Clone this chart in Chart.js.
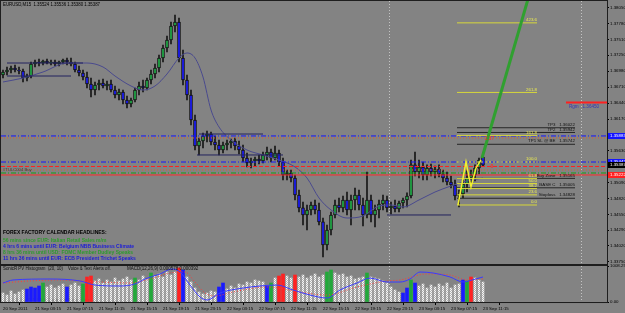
<!DOCTYPE html>
<html>
<head>
<meta charset="utf-8">
<script src="https://cdn.jsdelivr.net/npm/chart.js@4.4.0/dist/chart.umd.min.js"></script>
<style>
  html, body { margin: 0; padding: 0; background: #838383; }
  #wrap { position: relative; width: 625px; height: 313px; overflow: hidden; }
  #main { position: absolute; left: 0; top: 0; }
  #sub { position: absolute; left: 0; top: 260px; }
</style>
</head>
<body>
<div id="wrap">
  <canvas id="main" width="625" height="265"></canvas>
  <canvas id="sub" width="625" height="53"></canvas>
</div>
<script>
// ---------- data (EURUSD, bar index 0 = 20 Sep 23:15) ----------
const openP = [
  1.36915,1.36966,1.37000,1.37034,1.37000,1.36983,1.36864,1.36898,1.37101,1.37135,
  1.37118,1.37152,1.37118,1.37135,1.37101,1.37135,1.37169,1.37135,1.37101,1.37000,
  1.36949,1.36881,1.36763,1.36661,1.36746,1.36780,1.36729,1.36763,1.36661,1.36577,
  1.36627,1.36492,1.36424,1.36492,1.36661,1.36729,1.36695,1.36831,1.36932,1.37034,
  1.37203,1.37372,1.37508,1.37745,1.37813,1.37203,1.36831,1.36577,1.36153,1.35713,
  1.35798,1.35883,1.35916,1.35781,1.35730,1.35645,1.35730,1.35764,1.35798,1.35713,
  1.35645,1.35510,1.35425,1.35459,1.35493,1.35459,1.35561,1.35612,1.35510,1.35595,
  1.35442,1.35222,1.35256,1.35171,1.34884,1.34664,1.34545,1.34630,1.34714,1.34630,
  1.34427,1.34037,1.34291,1.34545,1.34714,1.34664,1.34799,1.34630,1.34799,1.34884,
  1.34714,1.34545,1.34799,1.34545,1.34630,1.34731,1.34799,1.34664,1.34697,1.34647,
  1.34748,1.34799,1.34867,1.35392,1.35273,1.35358,1.35222,1.35341,1.35273,1.35324,
  1.35239,1.35171,1.35104,1.35053,1.34867,1.34901,1.35070,1.35171,1.35222,1.35341,
  1.35524];
const highP = [
  1.37000,1.37051,1.37068,1.37085,1.37051,1.37017,1.36932,1.37135,1.37169,1.37186,
  1.37169,1.37186,1.37169,1.37169,1.37152,1.37186,1.37203,1.37203,1.37135,1.37068,
  1.37000,1.36966,1.36864,1.36797,1.36831,1.36848,1.36814,1.36831,1.36729,1.36678,
  1.36661,1.36560,1.36526,1.36695,1.36797,1.36831,1.36864,1.37000,1.37101,1.37254,
  1.37423,1.37576,1.37813,1.37931,1.37880,1.37338,1.36915,1.36661,1.36238,1.35849,
  1.35933,1.35967,1.35950,1.35883,1.35815,1.35781,1.35815,1.35832,1.35849,1.35798,
  1.35730,1.35595,1.35510,1.35527,1.35561,1.35612,1.35696,1.35662,1.35713,1.35645,
  1.35510,1.35307,1.35307,1.35222,1.34968,1.34765,1.34714,1.34765,1.34799,1.34748,
  1.34494,1.34376,1.34596,1.34799,1.34833,1.34867,1.34934,1.34884,1.35002,1.34968,
  1.34833,1.35273,1.34884,1.34714,1.34799,1.34884,1.34867,1.34765,1.34799,1.34782,
  1.34833,1.34918,1.35476,1.35612,1.35476,1.35442,1.35392,1.35408,1.35375,1.35392,
  1.35307,1.35273,1.35205,1.35138,1.34968,1.35138,1.35307,1.35307,1.35392,1.35510,
  1.35536];
const lowP = [
  1.36864,1.36915,1.36949,1.36966,1.36932,1.36797,1.36814,1.36864,1.37051,1.37068,
  1.37085,1.37101,1.37085,1.37068,1.37068,1.37101,1.37085,1.37068,1.36966,1.36898,
  1.36831,1.36695,1.36543,1.36577,1.36661,1.36695,1.36661,1.36627,1.36526,1.36492,
  1.36424,1.36357,1.36373,1.36458,1.36577,1.36627,1.36661,1.36763,1.36864,1.36966,
  1.37135,1.37305,1.37440,1.37643,1.37135,1.36746,1.36492,1.36069,1.35645,1.35561,
  1.35679,1.35781,1.35730,1.35645,1.35561,1.35595,1.35645,1.35679,1.35645,1.35578,
  1.35442,1.35358,1.35341,1.35375,1.35408,1.35425,1.35476,1.35442,1.35476,1.35375,
  1.35138,1.35138,1.35104,1.34799,1.34596,1.34376,1.34291,1.34545,1.34562,1.34376,
  1.33834,1.33952,1.34206,1.34494,1.34596,1.34596,1.34545,1.34376,1.34630,1.34630,
  1.34359,1.34494,1.34427,1.34342,1.34494,1.34630,1.34596,1.34562,1.34596,1.34596,
  1.34664,1.34680,1.34833,1.35205,1.35171,1.35138,1.35138,1.35205,1.35171,1.35188,
  1.35104,1.35053,1.35002,1.34799,1.34680,1.34833,1.34934,1.35036,1.35121,1.35239,
  1.35380];
const closeP = [
  1.36966,1.37000,1.37034,1.37000,1.36983,1.36864,1.36898,1.37101,1.37135,1.37118,
  1.37152,1.37118,1.37135,1.37101,1.37135,1.37169,1.37135,1.37101,1.37000,1.36949,
  1.36881,1.36763,1.36661,1.36746,1.36780,1.36729,1.36763,1.36661,1.36577,1.36627,
  1.36492,1.36424,1.36492,1.36661,1.36729,1.36695,1.36831,1.36932,1.37034,1.37203,
  1.37372,1.37508,1.37745,1.37813,1.37203,1.36831,1.36577,1.36153,1.35713,1.35798,
  1.35883,1.35916,1.35781,1.35730,1.35645,1.35730,1.35764,1.35798,1.35713,1.35645,
  1.35510,1.35425,1.35459,1.35493,1.35459,1.35561,1.35612,1.35510,1.35595,1.35442,
  1.35222,1.35256,1.35171,1.34884,1.34664,1.34545,1.34630,1.34714,1.34630,1.34427,
  1.34037,1.34291,1.34545,1.34714,1.34664,1.34799,1.34630,1.34799,1.34884,1.34714,
  1.34545,1.34799,1.34545,1.34630,1.34731,1.34799,1.34664,1.34697,1.34647,1.34748,
  1.34799,1.34867,1.35392,1.35273,1.35358,1.35222,1.35341,1.35273,1.35324,1.35239,
  1.35171,1.35104,1.35053,1.34867,1.34901,1.35070,1.35171,1.35222,1.35341,1.35476,
  1.35387];

// moving average (read at sample bars)
const maBars = [0,5,10,16,21,25,28,32,35,38,41,44,46,48,50,52,54,57,61,65,69,73,76,79,82,86,90,94,97,100,104,108,112,116,120];
const maVals = [1.36797,1.36864,1.36966,1.37118,1.37118,1.37051,1.36898,1.36729,1.36661,1.36729,1.36932,1.37203,1.37288,1.37203,1.36881,
  1.36323,1.36035,1.35815,1.35645,1.35561,1.35476,1.35358,1.35171,1.34833,1.34630,1.34494,1.34528,1.34697,1.34714,1.34680,
  1.34799,1.34934,1.35036,1.35121,1.35171];

const timeLabels = ['20 Sep 2011','21 Sep 03:15','21 Sep 07:15','21 Sep 11:15','21 Sep 15:15','21 Sep 19:15','21 Sep 23:15',
  '22 Sep 03:15','22 Sep 07:15','22 Sep 11:15','22 Sep 15:15','22 Sep 19:15','22 Sep 23:15','23 Sep 03:15','23 Sep 07:15','23 Sep 11:15'];
const timeTickBars = [0,8,16,24,32,40,48,56,64,72,80,88,96,104,112,120];
const priceTicks = [1.38050,1.37780,1.37510,1.37250,1.36980,1.36710,1.36440,1.36170,1.35900,1.35630,1.35360,1.35090,1.34820,1.34550,1.34290,1.34020,1.33750];

// drawn objects
const hSegFrom = [1, 1, 49, 48.5, 96];
const hSegTo = [20, 17, 65, 70, 112];
const hSegPrice = [1.37118, 1.36898, 1.35916, 1.35561, 1.34545];
const levelPrices = [1.35883, 1.35849, 1.35442, 1.35366, 1.35307, 1.35256, 1.35222];
const fibBase = [1.34714, 1.35442];
const fibLevels = [0, 23.6, 38.2, 50, 61.8, 100, 161.8, 261.8, 423.6];
const tpNames = ['TP3', 'TP2', 'TP1 SL @ BE', 'Buy Zone', 'BASE C', 'Stoploss'];
const tpPrices = [1.36022, 1.35942, 1.35742, 1.35165, 1.35005, 1.34828];
const targetBars = [119.75, 131.25];
const targetVals = [1.35510, 1.38200];
const zigBars = [113.75, 115.75, 117, 118.25, 119.5];
const zigVals = [1.34714, 1.35442, 1.35019, 1.35341, 1.35476];
const rgmPrice = 1.36450;
const sepBars = [96.5, 144.5];
const bidPrice = 1.35387;

const headlines = [
  'FOREX FACTORY CALENDAR HEADLINES:',
  '56 mins since EUR: Italian Retail Sales m/m',
  '4 hrs 6 mins until EUR: Belgium NBB Business Climate',
  '8 hrs 36 mins until USD: FOMC Member Dudley Speaks',
  '11 hrs 36 mins until EUR: ECB President Trichet Speaks'
];

// sub window
const volume = [
  252,196,308,224,280,336,364,420,392,448,
  532,420,476,392,448,504,420,476,532,448,
  504,700,728,588,644,532,616,560,672,588,
  644,700,616,672,616,728,644,812,728,784,
  700,840,756,840,952,896,700,560,392,280,
  224,252,308,280,420,532,364,448,392,504,
  476,560,532,616,588,560,448,532,672,728,
  784,728,672,756,700,756,672,728,784,700,
  756,840,896,812,756,784,700,728,644,672,
  700,812,700,672,644,588,532,420,336,280,
  252,392,616,532,448,504,392,476,420,504,
  448,532,392,476,504,616,588,700,672,616,
  560];
const blueBars = [6,7,8,9,16,45,54,55,66,100,101,103,115];
const greenBars = [10,20,33,37,67,81,82,91,102,116];
const redBars = [21,22,44,69,70,73,117];
const macdBars = [0,2.5,11.75,19.25,23,29.25,33,35.5,39.25,42.25,44.25,46.75,49.25,51,54.25,60,64.25,68.5,72.5,76.75,81,84.25,88.5,91.75,96,99.25,101.75,104.25,107.5,111.75,115,117.25,120];
const macdVals = [0.00002,0.00030,0.00039,0.00021,-0.00017,-0.00026,-0.00007,0.00039,0.00086,0.00132,0.00104,-0.00017,-0.00128,-0.00156,-0.00091,
  -0.00045,-0.00026,-0.00017,-0.00063,-0.00110,-0.00138,-0.00063,0.00002,0.00048,0.00011,0.00011,0.00039,0.00104,0.00095,0.00058,0.00011,0.00030,0.000578];
const signalBars = [0,6.75,14.25,24.25,31.75,36.75,41.75,45.5,48,50.5,53,57.5,66,74.25,81,88.5,96,99.25,106,111.75,116,120];
const signalVals = [0.00002,0.00021,0.00030,0.00011,0.00002,0.00039,0.00095,0.00104,0.00011,-0.00091,-0.00119,-0.00082,-0.00035,-0.00082,-0.00110,
  -0.00035,0.00021,0.00030,0.00086,0.00076,0.00030,0.000392];

// ---------- helpers ----------
Chart.defaults.font.family = "'Liberation Sans', Arial, sans-serif";
Chart.defaults.color = '#000';

var FONT = "'Liberation Sans', Arial, sans-serif";

function text(ctx, s, x, y, color, size, align, bold, maxW) {
  ctx.font = (bold ? 'bold ' : '') + size + 'px ' + FONT;
  ctx.fillStyle = color;
  ctx.textAlign = align || 'left';
  ctx.textBaseline = 'middle';
  if (maxW) ctx.fillText(s, x, y, maxW); else ctx.fillText(s, x, y);
}

function seg(x0, x1, p, color, width, dash, order) {
  return {
    type: 'line',
    data: [{x: x0, y: p}, {x: x1, y: p}],
    borderColor: color, borderWidth: width, borderDash: dash || [],
    pointRadius: 0, order: order == null ? 2 : order
  };
}

function zipXY(xs, ys) {
  return xs.map(function (v, i) { return {x: v, y: ys[i]}; });
}

var fibFrom = 113.5, fibTo = 133.5, tpTo = 143;
var fibPrice = function (lvl) { return fibBase[0] + (fibBase[1] - fibBase[0]) * lvl / 100; };

// ---------- main chart ----------
var wicks = [], bodies = [];
closeP.forEach(function (c, i) {
  wicks.push({x: i, y: [lowP[i], highP[i]]});
  bodies.push({x: i, y: [openP[i], c]});
});

var mainSets = [
  {
    type: 'bar', data: wicks, backgroundColor: '#161616', barThickness: 1,
    grouped: false, order: 6
  },
  {
    type: 'bar', data: bodies, barThickness: 3, grouped: false, order: 5,
    backgroundColor: function (c) { var i = c.dataIndex; return closeP[i] >= openP[i] ? '#22b04a' : '#1c1cff'; },
    borderColor: '#111', borderWidth: 1, borderSkipped: false
  },
  {
    type: 'line', data: zipXY(maBars, maVals), borderColor: '#4a4a8e', borderWidth: 1,
    pointRadius: 0, cubicInterpolationMode: 'monotone', order: 4
  }
];

hSegPrice.forEach(function (p, k) { mainSets.push(seg(hSegFrom[k], hSegTo[k], p, '#23235e', 1, null, 3)); });

// full width levels
var fullStyle = [
  ['#1414ff', [5, 2, 1, 2]], ['#e0602a', [1, 2]], ['#1414ff', [5, 2, 1, 2]], ['#ff2020', [4, 2]],
  ['#e0602a', [1, 2]], ['#18a018', [5, 2, 1, 2]], ['#ff2a2a', []]
];
levelPrices.forEach(function (p, k) { mainSets.push(seg(-0.5, 151, p, fullStyle[k][0], 1, fullStyle[k][1], 2)); });

fibLevels.forEach(function (l) {
  mainSets.push(seg(fibFrom, fibTo, fibPrice(l), '#d8d83a', 1, l === 100 ? [2, 2] : [], 1));
});
tpPrices.forEach(function (p) { mainSets.push(seg(fibFrom, tpTo, p, '#262626', 1, null, 1)); });
mainSets.push(seg(140.75, 151, rgmPrice, '#ff2020', 2, null, 1));

mainSets.push({
  type: 'line', data: zipXY(zigBars, zigVals), borderColor: '#f0f030', borderWidth: 1.5,
  pointRadius: 0, order: 0
});
mainSets.push({
  type: 'line', data: zipXY(targetBars, targetVals), borderColor: '#30a030', borderWidth: 3,
  pointRadius: 0, order: 0
});

var mainDecor = {
  id: 'mainDecor',
  beforeDatasetsDraw: function (chart) {
    var ctx = chart.ctx, a = chart.chartArea, x = chart.scales.x;
    ctx.save();
    ctx.strokeStyle = '#c4c4c4';
    ctx.lineWidth = 1;
    ctx.setLineDash([1, 2]);
    sepBars.forEach(function (b) {
      var px = Math.round(x.getPixelForValue(b)) + 0.5;
      ctx.beginPath(); ctx.moveTo(px, a.top); ctx.lineTo(px, a.bottom); ctx.stroke();
    });
    ctx.restore();
  },
  afterDatasetsDraw: function (chart) {
    var ctx = chart.ctx, x = chart.scales.x, y = chart.scales.y;
    ctx.save();
    // symbol header
    text(ctx, 'EURUSD,M15  1.35524 1.35536 1.35380 1.35387', 3, 5, '#000', 4.6, 'left', false, 97);
    // fib labels
    fibLevels.forEach(function (l) {
      text(ctx, l.toFixed(1), x.getPixelForValue(fibTo), y.getPixelForValue(fibPrice(l)) - 3, '#ecec50', 4.4, 'right');
    });
    // tp labels
    tpNames.forEach(function (n, k) {
      text(ctx, n + '   ' + tpPrices[k].toFixed(5), x.getPixelForValue(tpTo), y.getPixelForValue(tpPrices[k]) - 3, '#111', 4.4, 'right');
    });
    text(ctx, 'Rgm   ' + rgmPrice.toFixed(5), x.getPixelForValue(141.5), y.getPixelForValue(rgmPrice) + 4, '#3434b4', 4.6, 'left');
    text(ctx, '2.37', x.getPixelForValue(120.5), y.getPixelForValue(1.35832), '#ff2a2a', 4.6, 'left');
    text(ctx, '-0', x.getPixelForValue(121.5), y.getPixelForValue(1.35366), '#ff2a2a', 4.8, 'left', true);
    text(ctx, '#TULC004 Buy', 3, y.getPixelForValue(1.35307), '#3a3a3a', 4.2, 'left', false, 31);
    // headlines
    var hy = [233, 241, 247, 253, 259];
    var hc = ['#000', '#2e9a2e', '#1c1cd8', '#2e9a2e', '#1c1cd8'];
    var hw = [104, 107, 133, 130, 135];
    headlines.forEach(function (s, k) { text(ctx, s, 3, hy[k], hc[k], 5, 'left', true, hw[k]); });
    ctx.restore();
  },
  afterDraw: function (chart) {
    var ctx = chart.ctx, a = chart.chartArea, y = chart.scales.y;
    ctx.save();
    // price boxes on the axis
    var boxes = [[levelPrices[0], '#1414ff'], [levelPrices[2], '#1414ff'], [bidPrice, '#000'], [levelPrices[6], '#ff2020']];
    boxes.forEach(function (b) {
      var py = y.getPixelForValue(b[0]);
      ctx.fillStyle = b[1];
      ctx.fillRect(a.right + 1, Math.round(py) - 3, 18, 6);
      text(ctx, b[0].toFixed(5), a.right + 3, py, '#fff', 4.4, 'left');
    });
    // frame
    ctx.strokeStyle = '#1e1e1e';
    ctx.lineWidth = 1;
    ctx.strokeRect(a.left - 0.5, a.top - 0.5, a.right - a.left + 1, a.bottom - a.top + 1);
    ctx.restore();
  }
};

new Chart(document.getElementById('main'), {
  type: 'bar',
  data: {datasets: mainSets},
  options: {
    responsive: false, animation: false, devicePixelRatio: 1,
    layout: {padding: {top: 1, left: 1, right: 0, bottom: 1}},
    plugins: {legend: {display: false}, tooltip: {enabled: false}},
    scales: {
      x: {type: 'linear', min: -0.5, max: 151, offset: false, display: false},
      y: {
        position: 'right', min: 1.33715, max: 1.38168,
        afterBuildTicks: function (s) { s.ticks = priceTicks.map(function (v) { return {value: v}; }); },
        afterFit: function (s) { s.width = 18; s.paddingTop = 0; s.paddingBottom = 0; },
        ticks: {autoSkip: false, padding: 1, font: {size: 4.4}, color: '#000',
          callback: function (v) { return Number(v).toFixed(5); }},
        grid: {drawOnChartArea: false, tickLength: 2, color: '#000'},
        border: {display: true, color: '#000'}
      }
    }
  },
  plugins: [mainDecor]
});

// ---------- sub window ----------
var subCanvas = document.getElementById('sub');
var pc = document.createElement('canvas');
pc.width = 2; pc.height = 2;
var pctx = pc.getContext('2d');
pctx.fillStyle = '#b4b4b4'; pctx.fillRect(0, 0, 2, 2);
pctx.fillStyle = '#f6f6f6'; pctx.fillRect(0, 0, 1, 1); pctx.fillRect(1, 1, 1, 1);
var histFill = subCanvas.getContext('2d').createPattern(pc, 'repeat');

function volSet(list) {
  return list.map(function (i) { return {x: i, y: volume[i]}; });
}
var colored = blueBars.concat(greenBars, redBars);
var grayIdx = volume.map(function (v, i) { return i; }).filter(function (i) { return colored.indexOf(i) < 0; });

var subDecor = {
  id: 'subDecor',
  beforeDatasetsDraw: function (chart) {
    var ctx = chart.ctx, a = chart.chartArea, x = chart.scales.x;
    ctx.save();
    text(ctx, '\u00a9 2001-2011, MetaQuotes Software Corp.', 10, a.bottom - 2, '#4c4c4c', 4.4, 'left', false, 88);
    ctx.strokeStyle = '#c4c4c4';
    ctx.setLineDash([1, 2]);
    sepBars.forEach(function (b) {
      var px = Math.round(x.getPixelForValue(b)) + 0.5;
      ctx.beginPath(); ctx.moveTo(px, a.top); ctx.lineTo(px, a.bottom); ctx.stroke();
    });
    ctx.restore();
  },
  afterDatasetsDraw: function (chart) {
    var ctx = chart.ctx, a = chart.chartArea;
    ctx.save();
    text(ctx, 'SonicR PV Histogram  (20, 10)', 3, a.top + 3, '#111', 4.5, 'left', false, 60);
    text(ctx, 'Voice & Text Alerts off.', 68, a.top + 3, '#111', 4.5, 'left', false, 43);
    text(ctx, 'MACD(12,26,9) 0.000578 0.000392', 127, a.top + 3, '#111', 4.5, 'left', false, 74);
    ctx.strokeStyle = '#1e1e1e';
    ctx.lineWidth = 1;
    ctx.strokeRect(a.left - 0.5, a.top - 0.5, a.right - a.left + 1, a.bottom - a.top + 1);
    ctx.restore();
  }
};

new Chart(subCanvas, {
  type: 'bar',
  data: {
    datasets: [
      {data: volSet(grayIdx), yAxisID: 'y2', backgroundColor: histFill, barThickness: 2, grouped: false, order: 3},
      {data: volSet(blueBars), yAxisID: 'y2', backgroundColor: '#1a1aff', barThickness: 3, grouped: false, order: 2},
      {data: volSet(greenBars), yAxisID: 'y2', backgroundColor: '#22a83a', barThickness: 3, grouped: false, order: 2},
      {data: volSet(redBars), yAxisID: 'y2', backgroundColor: '#ff2222', barThickness: 3, grouped: false, order: 2},
      {type: 'line', data: zipXY(macdBars, macdVals), yAxisID: 'y3', borderColor: '#3a3aff', borderWidth: 1,
        pointRadius: 0, cubicInterpolationMode: 'monotone', order: 0},
      {type: 'line', data: zipXY(signalBars, signalVals), yAxisID: 'y3', borderColor: '#ff3a3a', borderWidth: 1,
        borderDash: [1, 2], pointRadius: 0, cubicInterpolationMode: 'monotone', order: 0}
    ]
  },
  options: {
    responsive: false, animation: false, devicePixelRatio: 1,
    layout: {padding: {top: 6, left: 1, right: 0, bottom: 0.7}},
    plugins: {legend: {display: false}, tooltip: {enabled: false}},
    scales: {
      x: {
        type: 'linear', min: -0.5, max: 151, offset: false,
        afterBuildTicks: function (s) { s.ticks = timeTickBars.map(function (v) { return {value: v}; }); },
        afterFit: function (s) { s.paddingLeft = 0; s.paddingRight = 0; },
        ticks: {autoSkip: false, maxRotation: 0, align: 'start', padding: 1,
          font: {size: 4.4, lineHeight: 1.2}, color: '#000',
          callback: function (v, i) { return timeLabels[i]; }},
        grid: {drawOnChartArea: false, tickLength: 3, color: '#000'},
        border: {display: true, color: '#000'}
      },
      y2: {
        position: 'right', min: 0, max: 1008.25,
        afterBuildTicks: function (s) { s.ticks = [{value: 0}, {value: 1008.25}]; },
        afterFit: function (s) { s.width = 18; s.paddingTop = 0; s.paddingBottom = 0; },
        ticks: {autoSkip: false, padding: 1, font: {size: 4.4}, color: '#000',
          callback: function (v) { return Number(v).toFixed(2); }},
        grid: {drawOnChartArea: false, tickLength: 2, color: '#000'},
        border: {display: true, color: '#000'}
      },
      y3: {display: false, min: -0.00175, max: 0.0016}
    }
  },
  plugins: [subDecor]
});
</script>
</body>
</html>
